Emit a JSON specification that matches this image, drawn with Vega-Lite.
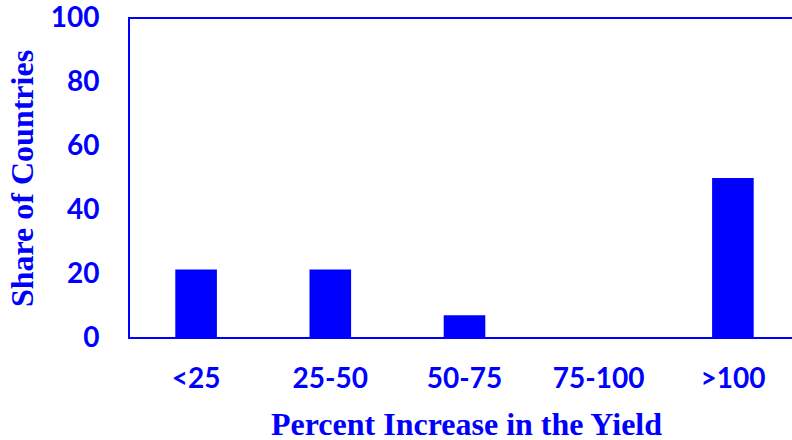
{
  "$schema": "https://vega.github.io/schema/vega-lite/v6.json",
  "autosize": "none",
  "padding": {"left": 129, "top": 18, "right": 0, "bottom": 102},
  "width": 671,
  "height": 320,
  "background": "white",
  "data": {
    "values": [
      {"range": "<25", "share": 21.4},
      {"range": "25-50", "share": 21.4},
      {"range": "50-75", "share": 7.1},
      {"range": "75-100", "share": 0},
      {"range": ">100", "share": 50}
    ]
  },
  "config": {
    "view": {"stroke": "#0000FF", "strokeWidth": 2},
    "axis": {
      "grid": false,
      "ticks": false,
      "domain": false,
      "labelColor": "#0000FF",
      "titleColor": "#0000FF",
      "labelFont": "Lato",
      "labelFontWeight": "bold",
      "labelFontSize": 28,
      "titleFont": "Liberation Serif",
      "titleFontWeight": "bold",
      "titleFontSize": 32
    }
  },
  "mark": {"type": "bar", "color": "#0000FF"},
  "encoding": {
    "x": {
      "field": "range",
      "type": "nominal",
      "sort": null,
      "scale": {"paddingInner": 0.69, "paddingOuter": 0.345},
      "axis": {
        "title": "Percent Increase in the Yield",
        "labelAngle": 0,
        "labelPadding": 27,
        "titleX": 337,
        "titleY": 96,
        "titleBaseline": "alphabetic"
      }
    },
    "y": {
      "field": "share",
      "type": "quantitative",
      "scale": {"domain": [0, 100]},
      "axis": {
        "title": "Share of Countries",
        "values": [0, 20, 40, 60, 80, 100],
        "labelPadding": 30,
        "titleX": -90,
        "titleY": 160,
        "titleBaseline": "bottom"
      }
    }
  }
}
